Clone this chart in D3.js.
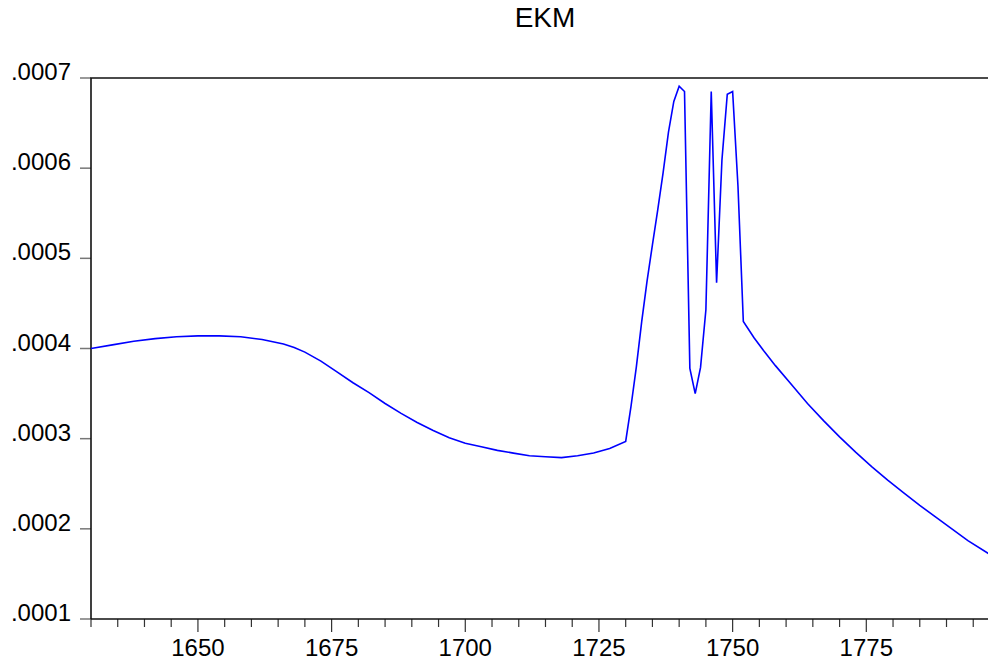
<!DOCTYPE html>
<html>
<head>
<meta charset="utf-8">
<script src="https://cdn.jsdelivr.net/npm/d3@7"></script>
<style>
  body { margin: 0; background: #fff; }
  text { font-family: "Liberation Sans", Arial, sans-serif; fill: #000; }
</style>
</head>
<body>
<svg id="chart"></svg>
<script>
// series
const years = [1630, 1634, 1638, 1642, 1646, 1650, 1654, 1658, 1662, 1666, 1668, 1670,
  1673, 1676, 1679, 1682, 1685, 1688, 1691, 1694, 1697, 1700, 1703, 1706, 1709, 1712,
  1715, 1718, 1721, 1724, 1727, 1730, 1731, 1732, 1733, 1734, 1735, 1736, 1737, 1738,
  1739, 1740, 1741, 1742, 1743, 1744, 1745, 1746, 1747, 1748, 1749, 1750, 1751, 1752,
  1754, 1756, 1758, 1761, 1764, 1767, 1770, 1773, 1776, 1779, 1782, 1785, 1788, 1791,
  1794, 1798];
const ekm = [0.000400, 0.000404, 0.000408, 0.000411, 0.000413, 0.000414, 0.000414, 0.000413,
  0.000410, 0.000405, 0.000401, 0.000396, 0.000386, 0.000374, 0.000362, 0.000351, 0.000339,
  0.000328, 0.000318, 0.000309, 0.000301, 0.000295, 0.000291, 0.000287, 0.000284, 0.000281,
  0.000280, 0.000279, 0.000281, 0.000284, 0.000289, 0.000297, 0.000336, 0.000380, 0.000430,
  0.000475, 0.000515, 0.000554, 0.000595, 0.000640, 0.000674, 0.000691, 0.000685, 0.000378,
  0.000350, 0.000379, 0.000443, 0.000685, 0.000473, 0.000609, 0.000682, 0.000685, 0.000580,
  0.000430, 0.000412, 0.000396, 0.000381, 0.000360, 0.000339, 0.000320, 0.000302, 0.000285,
  0.000269, 0.000254, 0.000240, 0.000226, 0.000213, 0.000200, 0.000187, 0.000172];

const yTicks = [0.0001, 0.0002, 0.0003, 0.0004, 0.0005, 0.0006, 0.0007];
const xMajor = [1650, 1675, 1700, 1725, 1750, 1775];
const xMinor = d3.range(1630, 1800, 5);

const W = 988, H = 671;
const m = { left: 91, right: 988, top: 78, bottom: 619 };

const svg = d3.select("#chart").attr("width", W).attr("height", H);

const x = d3.scaleLinear().domain([1630, 1797.76]).range([m.left, m.right]);
const y = d3.scaleLinear().domain([0.0001, 0.0007]).range([m.bottom, m.top]);

const fmt = v => d3.format(".4f")(v).replace(/^0/, "");

// title
svg.append("text")
  .attr("x", 545).attr("y", 27)
  .attr("text-anchor", "middle")
  .style("font-size", "28px")
  .text("EKM");

// y ticks + labels
const yAxis = svg.append("g");
yAxis.selectAll("line")
  .data(yTicks)
  .enter().append("line")
    .attr("x1", m.left - 11).attr("x2", m.left)
    .attr("y1", d => y(d)).attr("y2", d => y(d))
    .attr("stroke", "#777").attr("stroke-width", 1.5);
yAxis.selectAll("text")
  .data(yTicks)
  .enter().append("text")
    .attr("x", 71).attr("y", d => y(d) + 2)
    .attr("text-anchor", "end")
    .style("font-size", "24px")
    .text(fmt);

// x ticks
const xAxis = svg.append("g");
xAxis.selectAll("line.minor")
  .data(xMinor)
  .enter().append("line")
    .attr("class", "minor")
    .attr("x1", d => x(d)).attr("x2", d => x(d))
    .attr("y1", m.bottom).attr("y2", d => xMajor.includes(d) ? m.bottom + 13 : m.bottom + 8)
    .attr("stroke", "#333").attr("stroke-width", 1.2);
xAxis.selectAll("text")
  .data(xMajor)
  .enter().append("text")
    .attr("x", d => x(d)).attr("y", 656)
    .attr("text-anchor", "middle")
    .style("font-size", "24px")
    .text(d => d);

// frame: left, top, bottom
svg.append("path")
  .attr("d", `M${m.left},${m.bottom}V${m.top}H${m.right}M${m.left},${m.bottom}H${m.right}`)
  .attr("fill", "none")
  .attr("stroke", "#111")
  .attr("stroke-width", 1.6);

// clip + line
svg.append("clipPath").attr("id", "clip")
  .append("rect").attr("x", m.left).attr("y", m.top)
  .attr("width", m.right - m.left).attr("height", m.bottom - m.top);

const pts = years.map((yr, i) => [yr, ekm[i]]);
const line = d3.line()
  .x(d => x(d[0]))
  .y(d => y(d[1]));

svg.append("path")
  .datum(pts)
  .attr("clip-path", "url(#clip)")
  .attr("fill", "none")
  .attr("stroke", "#0000ff")
  .attr("stroke-width", 1.6)
  .attr("d", line);
</script>
</body>
</html>
